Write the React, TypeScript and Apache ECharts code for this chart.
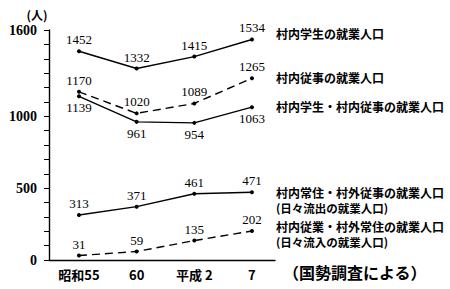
import React, { useEffect, useRef } from "react";
import * as echarts from "echarts";

const categories = ["昭和55", "60", "平成 2", "7"];
const xPositions = [0, 1, 2, 3];
const gakuseiShuugyou = [1452, 1332, 1415, 1534];
const juujiShuugyou = [1170, 1020, 1089, 1265];
const gakuseiJuujiShuugyou = [1139, 961, 954, 1063];
const ryuushutsu = [313, 371, 461, 471];
const ryuunyuu = [31, 59, 135, 202];
const yLabelValues = [0, 500, 1000, 1600];

const seriesNames = [
  "村内学生の就業人口",
  "村内従事の就業人口",
  "村内学生・村内従事の就業人口",
  "村内常住・村外従事の就業人口",
  "村内従業・村外常住の就業人口",
];

const JP = '"Noto Sans CJK JP", sans-serif';
const NUM = '"Liberation Serif", "DejaVu Serif", serif';

export default function App() {
  const ref = useRef<HTMLDivElement>(null);
  useEffect(() => {
    document.body.style.margin = "0";
    if (!ref.current) return;
    const chart = echarts.init(ref.current, null, { renderer: "svg" });
    const mk = (name: string, vals: number[], dashed: boolean, pos: string) => ({
      name,
      type: "line",
      data: vals.map((v, i) => [xPositions[i], v]),
      symbol: "circle",
      symbolSize: 4,
      showAllSymbol: true,
      clip: false,
      itemStyle: { color: "#000" },
      lineStyle: { color: "#000", width: 1.4, type: dashed ? [8, 5] : "solid" },
      label: {
        show: true,
        position: pos,
        distance: 3,
        color: "#000",
        fontFamily: NUM,
        fontSize: 13,
        formatter: (p: any) => String(p.value[1]),
      },
    });
    const legendTexts: [string, number, number, number][] = [
      ["村内学生の就業人口", 276, 33, 12],
      ["村内従事の就業人口", 276, 77, 12],
      ["村内学生・村内従事の就業人口", 276, 106, 12],
      ["村内常住・村外従事の就業人口", 276, 192, 12],
      ["(日々流出の就業人口)", 276, 208, 11.5],
      ["村内従業・村外常住の就業人口", 276, 226, 12],
      ["(日々流入の就業人口)", 276, 242, 11.5],
      ["（国勢調査による）", 283, 272, 16],
    ];
    chart.setOption({
      animation: false,
      backgroundColor: "#fff",
      grid: { left: 49, right: 175, top: 30, bottom: 29, containLabel: false, outerBoundsMode: "none" },
      xAxis: {
        type: "value",
        min: -0.52,
        max: 3.4,
        axisLine: { show: true, onZero: false, lineStyle: { color: "#000", width: 1.4 } },
        axisTick: { show: false },
        splitLine: { show: false },
        axisLabel: {
          customValues: xPositions,
          formatter: (v: number) => categories[Math.round(v)] ?? "",
          color: "#000",
          fontFamily: JP,
          fontWeight: "bold",
          fontSize: 13,
          margin: 8,
        },
      },
      yAxis: {
        type: "value",
        min: 0,
        max: 1600,
        interval: 100,
        axisLine: { show: true, onZero: false, lineStyle: { color: "#000", width: 1.4 } },
        axisTick: { show: true, length: 5, lineStyle: { color: "#000", width: 1 } },
        splitLine: { show: false },
        axisLabel: {
          customValues: yLabelValues,
          formatter: (v: number) => String(v),
          color: "#000",
          fontFamily: NUM,
          fontWeight: "bold",
          fontSize: 14,
          margin: 12,
        },
      },
      series: [
        mk(seriesNames[0], gakuseiShuugyou, false, "top"),
        mk(seriesNames[1], juujiShuugyou, true, "top"),
        mk(seriesNames[2], gakuseiJuujiShuugyou, false, "bottom"),
        mk(seriesNames[3], ryuushutsu, false, "top"),
        mk(seriesNames[4], ryuunyuu, true, "top"),
      ],
      graphic: [
        {
          type: "text",
          x: 37,
          y: 14,
          style: {
            text: "(人)",
            fill: "#000",
            font: `bold 12px ${JP}`,
            textAlign: "center",
            textVerticalAlign: "middle",
          },
        },
        ...legendTexts.map(([t, x, y, s]) => ({
          type: "text",
          x,
          y,
          style: {
            text: t,
            fill: "#000",
            font: `bold ${s}px ${JP}`,
            textAlign: "left",
            textVerticalAlign: "middle",
          },
        })),
      ],
    });
    return () => chart.dispose();
  }, []);
  return <div ref={ref} style={{ width: 450, height: 289 }} />;
}
